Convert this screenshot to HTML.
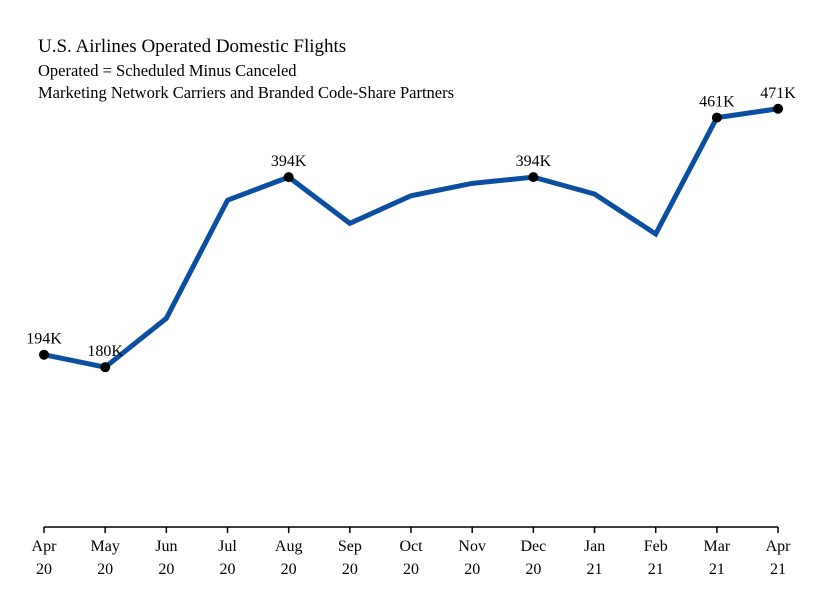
<!DOCTYPE html>
<html><head><meta charset="utf-8"><style>
body{margin:0;background:#fff;}
svg text{font-family:"Liberation Serif",serif;fill:#000;}
</style></head><body>
<svg width="820" height="599">
<text x="38" y="52" font-size="19">U.S. Airlines Operated Domestic Flights</text>
<text x="38" y="76" font-size="16.5">Operated = Scheduled Minus Canceled</text>
<text x="38" y="98" font-size="16.5">Marketing Network Carriers and Branded Code-Share Partners</text>
<g id="axis"></g>
<g id="plot"></g>
</svg>
<script>
const months=["Apr","May","Jun","Jul","Aug","Sep","Oct","Nov","Dec","Jan","Feb","Mar","Apr"];
const years=["20","20","20","20","20","20","20","20","20","21","21","21","21"];
const values=[194,180,235,368,394,342,373,387,394,375,330,461,471];
const labeled=[true,true,false,false,true,false,false,false,true,false,false,true,true];
const NS="http://www.w3.org/2000/svg";
const x=i=>44+i*61.17, y=v=>527-v*0.888;
const ax=document.getElementById('axis'), pl=document.getElementById('plot');
function mk(t,a,p){const e=document.createElementNS(NS,t);for(const k in a)e.setAttribute(k,a[k]);p.appendChild(e);return e;}
const base=mk('line',{x1:44,x2:x(12),y1:527,y2:527,stroke:'#000','stroke-width':1.5},ax);


months.forEach((m,i)=>{
  const t=mk('line',{x1:x(i),x2:x(i),y1:527,y2:533,stroke:'#000','stroke-width':1.5},ax);
  
  
  const l=mk('text',{x:x(i),y:551,'font-size':16,'text-anchor':'middle'},ax);l.textContent=m;
  
  
  const l2=mk('text',{x:x(i),y:574,'font-size':16,'text-anchor':'middle'},ax);l2.textContent=years[i];
  
  
});
const pts=values.map((v,i)=>x(i)+','+y(v)).join(' ');
const line=mk('polyline',{points:pts,fill:'none',stroke:'#0b4fa0','stroke-width':5,'stroke-linejoin':'miter'},pl);


values.forEach((v,i)=>{
  if(!labeled[i])return;
  const c=mk('circle',{cx:x(i),cy:y(v),r:5,fill:'#000'},pl);
  
  
  const t=mk('text',{x:x(i),y:y(v)-11,'font-size':16,'text-anchor':'middle'},pl);t.textContent=v+'K';
  
  
});
</script>
</body></html>
